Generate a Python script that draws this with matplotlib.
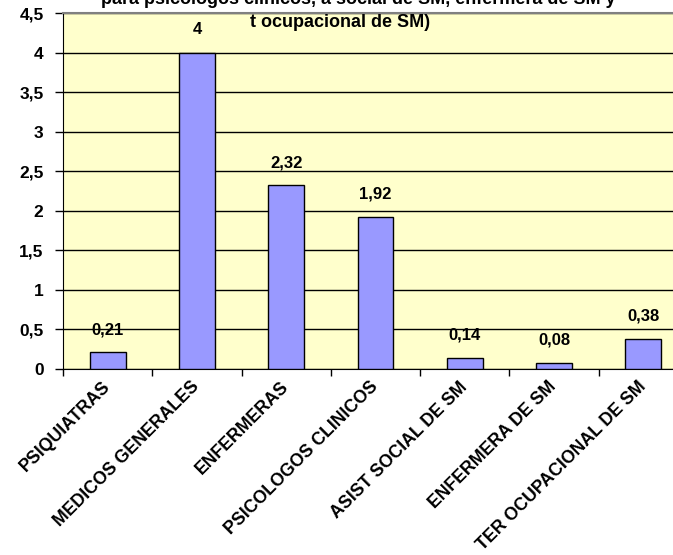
import matplotlib
matplotlib.use("Agg")
import matplotlib.pyplot as plt

categorias = ["PSIQUIATRAS", "MEDICOS GENERALES", "ENFERMERAS", "PSICOLOGOS CLINICOS",
              "ASIST SOCIAL DE SM", "ENFERMERA DE SM", "TER OCUPACIONAL DE SM"]
valores = [0.21, 4, 2.32, 1.92, 0.14, 0.08, 0.38]
etiquetas = ["0,21", "4", "2,32", "1,92", "0,14", "0,08", "0,38"]
yticks = [0, 0.5, 1, 1.5, 2, 2.5, 3, 3.5, 4, 4.5]
ytick_labels = ["0", "0,5", "1", "1,5", "2", "2,5", "3", "3,5", "4", "4,5"]

plt.rcParams["font.family"] = ["Liberation Sans", "DejaVu Sans"]
plt.rcParams["font.weight"] = "bold"

fig = plt.figure(figsize=(6.73, 5.55), dpi=100)
# plot area runs past the right edge of the image, as in the original
ax = fig.add_axes([63 / 673, 1 - 369 / 555, 625 / 673, 356 / 555])
ax.set_facecolor("#FFFFCC")

x = list(range(len(categorias)))
ax.set_axisbelow(True)
ax.yaxis.grid(True, color="black", linewidth=1)
ax.bar(x, valores, width=0.4, color="#9999FF", edgecolor="black", linewidth=1, zorder=3)

for xi, v, lab in zip(x, valores, etiquetas):
    ax.annotate(lab, (xi, v), xytext=(0, 11), textcoords="offset points",
                ha="center", va="bottom", fontsize=12, fontweight="bold")

ax.set_xlim(-0.5, len(categorias) - 0.5)
ax.set_ylim(0, 4.5)
ax.set_yticks(yticks)
ax.set_yticklabels(ytick_labels, fontsize=12.5, fontweight="bold")
ax.set_xticks(x)
ax.set_xticklabels(categorias, rotation=45, ha="right", va="center",
                   rotation_mode="anchor", fontsize=12.8, fontweight="bold")
ax.tick_params(axis="x", length=0, pad=11)
ax.set_xticks([i - 0.5 for i in range(len(categorias) + 1)], minor=True)
ax.tick_params(axis="x", which="minor", length=5, width=1, color="black")
ax.tick_params(axis="y", length=6, width=1, color="black", pad=8)

ax.spines["left"].set_color("black")
ax.spines["bottom"].set_color("black")
ax.spines["top"].set_color("#808080")
ax.spines["top"].set_linewidth(1.5)
ax.spines["right"].set_visible(False)

# title is cut off at the top in the original
fig.text(0.533, 1 - 4 / 555, "para psicologos clinicos, a social de SM, enfermera de SM y",
         ha="center", va="baseline", fontsize=13, fontweight="bold")
fig.text(0.505, 1 - 27 / 555, "t ocupacional de SM)",
         ha="center", va="baseline", fontsize=13, fontweight="bold")

fig.savefig("out.png", dpi=100)
